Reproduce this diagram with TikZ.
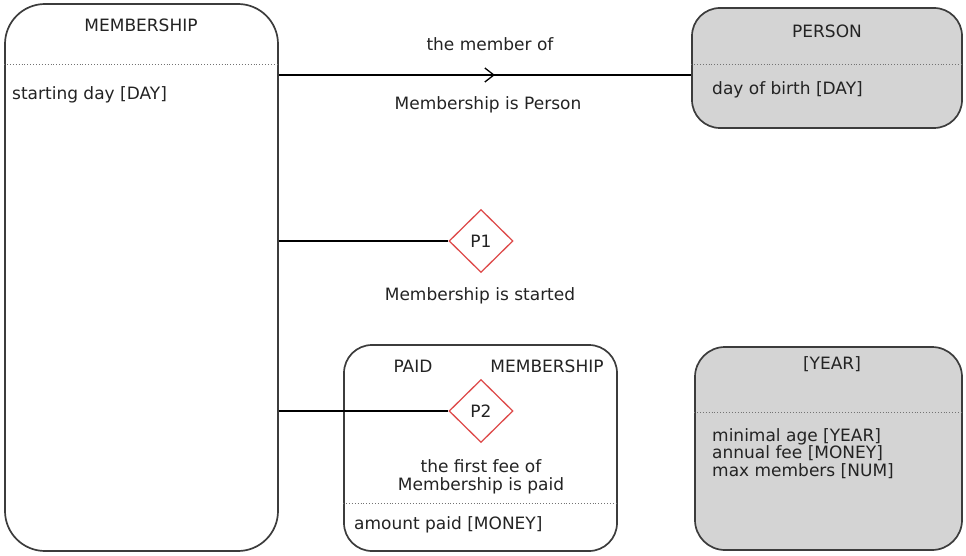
\documentclass[tikz,border=0pt]{standalone}
\usepackage{fontspec}
\setmainfont{DejaVu Sans}
\usetikzlibrary{shapes.geometric,arrows.meta,decorations.markings}
\definecolor{boxgray}{RGB}{212,212,212}
\definecolor{edge}{RGB}{60,60,60}
\definecolor{predred}{RGB}{222,76,76}
\definecolor{ink}{RGB}{35,35,35}

\begin{document}
\begin{tikzpicture}[x=1pt,y=-1pt,
  every node/.style={font=\fontsize{17}{17.5}\selectfont, text=ink},
  frame/.style={draw=edge, line width=1.7pt, inner sep=0pt},
  txt/.style={inner sep=0pt, text height=12pt, text depth=3.5pt},
  sep/.style={draw=black!55, dotted, line width=0.9pt},
  link/.style={draw=black, line width=1.3pt},
  predicate/.style={diamond, draw=predred, line width=1.3pt, fill=white,
    minimum width=64pt, minimum height=63pt, inner sep=0pt}
]
\useasboundingbox (0,0) rectangle (966,556);

% fact type boxes
\node[frame, fill=white, rounded corners=40pt, minimum width=273pt, minimum height=547pt] (mem) at (141.5,277.5) {};
\node[frame, fill=boxgray, rounded corners=28pt, minimum width=270pt, minimum height=120pt] (per) at (827,68) {};
\node[frame, fill=white, rounded corners=28pt, minimum width=273pt, minimum height=206pt] (paid) at (480.5,448) {};
\node[frame, fill=boxgray, rounded corners=30pt, minimum width=267pt, minimum height=203pt] (year) at (828.5,448.5) {};

% separators between header and attributes
\draw[sep] (mem.west |- 0,64) -- (mem.east |- 0,64);
\draw[sep] (per.west |- 0,64) -- (per.east |- 0,64);
\draw[sep] (paid.west |- 0,503) -- (paid.east |- 0,503);
\draw[sep] (year.west |- 0,412) -- (year.east |- 0,412);

% predicates
\node[predicate] (p1) at (481,241) {P1};
\node[predicate] (p2) at (481,411) {P2};

% connectors
\draw[link, postaction={decorate}, decoration={markings,
    mark=at position 0.524 with {\arrow{Straight Barb[length=9pt,width=14pt,line width=1.3pt]}}}]
  (mem.east |- 0,75) -- (per.west |- 0,75);
\draw[link] (mem.east |- p1) -- (p1.west);
\draw[link] (mem.east |- p2) -- (p2.west);

% texts
\node[txt] (memt) at (141,27) {MEMBERSHIP};
\node[txt, anchor=west] (mema) at (12,95) {starting day [DAY]};
\node[txt] (rel1) at (490,46) {the member of};
\node[txt] (rel2) at (488,105) {Membership is Person};
\node[txt] (pert) at (827,33) {PERSON};
\node[txt, anchor=west] (pera) at (712,90) {day of birth [DAY]};
\node[txt] (p1t) at (480,296) {Membership is started};
\node[txt] (paid1) at (413,368) {PAID};
\node[txt] (paid2) at (547,368) {MEMBERSHIP};
\node[txt, align=center, text height=, text depth=] (p2t) at (481,477) {the first fee of\\Membership is paid};
\node[txt, anchor=west] (paida) at (354,525) {amount paid [MONEY]};
\node[txt] (yeart) at (832,365) {[YEAR]};
\node[txt, anchor=north west, align=left, text height=, text depth=] (yeara) at (712,428) {minimal age [YEAR]\\annual fee [MONEY]\\max members [NUM]};
\end{tikzpicture}
\end{document}
